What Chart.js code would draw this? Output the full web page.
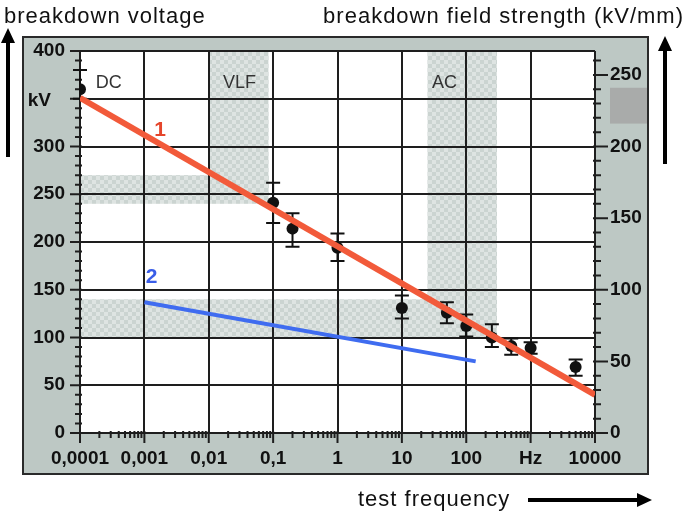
<!DOCTYPE html>
<html>
<head>
<meta charset="utf-8">
<script src="https://cdn.jsdelivr.net/npm/chart.js@4.4.1/dist/chart.umd.min.js"></script>
<style>
  body { margin: 0; background: #fff; }
  #wrap { position: relative; width: 685px; height: 514px; overflow: hidden; }
  canvas { position: absolute; left: 0; top: 0; }
  .lbl { position: absolute; font-family: "Liberation Sans", Arial, sans-serif; font-size: 22px;
         line-height: 22px; letter-spacing: 1px; color: #111; white-space: nowrap; }
</style>
</head>
<body>
<div id="wrap">
  <canvas id="chart" width="685" height="514"></canvas>
  <div class="lbl" style="left:4px; top:5px;">breakdown voltage</div>
  <div class="lbl" style="right:1px; top:5px;">breakdown field strength (kV/mm)</div>
  <div class="lbl" style="left:358px; top:488px;">test frequency</div>
</div>
<script>
// measured breakdown voltages (kV) with error bars
const freq = [0.0001, 0.1, 0.2, 1, 10, 50, 100, 250, 500, 1000, 5000];
const voltage = [360, 241, 214, 194, 131, 126, 112, 100, 91, 89, 69];
const errUp = [20, 21, 16, 15, 13, 11, 12, 14, 8, 6, 8];
const errDown = [10, 21, 19, 14, 11, 11, 11, 10, 9, 6, 9];

// fitted lines
const line1Freq = [0.0001, 10000];
const line1Volt = [351, 40];
const line2Freq = [0.001, 140];
const line2Volt = [137, 75];

// axes
const xTicks = [0.0001, 0.001, 0.01, 0.1, 1, 10, 100, 1000, 10000];
const xLabels = ['0,0001', '0,001', '0,01', '0,1', '1', '10', '100', 'Hz', '10000'];
const yTicks = [0, 50, 100, 150, 200, 250, 300, 350, 400];
const yLabels = ['0', '50', '100', '150', '200', '250', '300', '', '400'];
const y1Ticks = [0, 50, 100, 150, 200, 250];
const y1Max = 400 / 1.5;

// shaded test ranges: [x0, x1, y0, y1]
const bands = [
  [0.0001, 0.085, 240, 270],  // DC
  [0.01, 0.085, 250, 400],    // VLF
  [25, 300, 100, 400],        // AC
  [0.0001, 300, 100, 140]
];
const regionNames = ['DC', 'VLF', 'AC'];
const regionFreq = [0.00028, 0.03, 46];

const pts = freq.map((f, i) => ({ x: f, y: voltage[i] }));
const toXY = (xs, ys) => xs.map((v, i) => ({ x: v, y: ys[i] }));

function makePattern(ctx) {
  const c = document.createElement('canvas');
  c.width = 8; c.height = 8;
  const p = c.getContext('2d');
  p.fillStyle = '#cbd4d1';
  p.fillRect(0, 0, 8, 8);
  p.fillStyle = '#dee4e2';
  p.fillRect(0, 0, 4, 4);
  p.fillRect(4, 4, 4, 4);
  return ctx.createPattern(c, 'repeat');
}

function arrow(ctx, x0, y0, x1, y1) {
  const ang = Math.atan2(y1 - y0, x1 - x0);
  const hl = 15, hw = 7;
  ctx.beginPath();
  ctx.moveTo(x0, y0);
  ctx.lineTo(x1 - hl * Math.cos(ang), y1 - hl * Math.sin(ang));
  ctx.stroke();
  ctx.beginPath();
  ctx.moveTo(x1, y1);
  ctx.lineTo(x1 - hl * Math.cos(ang) - hw * Math.sin(ang), y1 - hl * Math.sin(ang) + hw * Math.cos(ang));
  ctx.lineTo(x1 - hl * Math.cos(ang) + hw * Math.sin(ang), y1 - hl * Math.sin(ang) - hw * Math.cos(ang));
  ctx.closePath();
  ctx.fill();
}

const decor = {
  id: 'decor',
  beforeDraw(chart) {
    const { ctx, chartArea: a, scales: { x, y, y1 } } = chart;
    ctx.save();
    // grey panel
    ctx.fillStyle = '#bdc8c4';
    ctx.fillRect(23, 37, 625, 437);
    ctx.lineWidth = 2;
    ctx.strokeStyle = '#2a2a2a';
    ctx.strokeRect(23, 37, 625, 437);
    ctx.fillStyle = '#fff';
    ctx.fillRect(a.left, a.top, a.right - a.left, a.bottom - a.top);
    // test ranges
    ctx.fillStyle = makePattern(ctx);
    bands.forEach(b => {
      const px0 = x.getPixelForValue(b[0]), px1 = x.getPixelForValue(b[1]);
      const py0 = y.getPixelForValue(b[3]), py1 = y.getPixelForValue(b[2]);
      ctx.fillRect(px0, py0, px1 - px0, py1 - py0);
    });
    // grey marker at right axis
    ctx.fillStyle = '#a9abaa';
    const gy0 = y1.getPixelForValue(241), gy1 = y1.getPixelForValue(216);
    ctx.fillRect(a.right + 15, gy0, 647 - (a.right + 15), gy1 - gy0);
    ctx.restore();
  },
  beforeDatasetsDraw(chart) {
    const { ctx, chartArea: a, scales: { x, y, y1 } } = chart;
    ctx.save();
    ctx.strokeStyle = '#1e1e1e';
    ctx.lineWidth = 2;
    // minor / major tick marks
    ctx.beginPath();
    for (let v = 0; v <= 400; v += 10) {
      const py = y.getPixelForValue(v);
      const len = v % 50 === 0 ? 10 : 5;
      ctx.moveTo(a.left - len, py); ctx.lineTo(a.left + 2, py);
    }
    for (let v = 0; v <= 260; v += 10) {
      const py = y1.getPixelForValue(v);
      const len = v % 50 === 0 ? 13 : 6;
      ctx.moveTo(a.right - 2, py); ctx.lineTo(a.right + len, py);
    }
    for (let d = 0.0001; d < 10001; d *= 10) {
      for (let m = 1; m <= 9; m++) {
        const v = d * m;
        if (v > 10001) break;
        const px = x.getPixelForValue(v);
        const len = m === 1 ? 10 : 5;
        ctx.moveTo(px, a.bottom - 2); ctx.lineTo(px, a.bottom + len);
      }
    }
    ctx.stroke();
    // error bars
    ctx.strokeStyle = '#111';
    ctx.beginPath();
    freq.forEach((f, i) => {
      const px = x.getPixelForValue(f);
      const hi = y.getPixelForValue(voltage[i] + errUp[i]);
      const lo = y.getPixelForValue(voltage[i] - errDown[i]);
      ctx.moveTo(px, hi); ctx.lineTo(px, lo);
      ctx.moveTo(px - 7, hi); ctx.lineTo(px + 7, hi);
      ctx.moveTo(px - 7, lo); ctx.lineTo(px + 7, lo);
    });
    ctx.stroke();
    ctx.restore();
  },
  afterDraw(chart) {
    const { ctx, chartArea: a, scales: { x, y } } = chart;
    ctx.save();
    ctx.textBaseline = 'middle';
    ctx.textAlign = 'center';
    ctx.fillStyle = '#333';
    ctx.font = '18px "Liberation Sans", Arial, sans-serif';
    regionNames.forEach((n, i) => ctx.fillText(n, x.getPixelForValue(regionFreq[i]), y.getPixelForValue(366)));
    ctx.font = 'bold 21px "Liberation Sans", Arial, sans-serif';
    ctx.fillStyle = '#e5452b';
    ctx.fillText('1', x.getPixelForValue(0.00175), y.getPixelForValue(317));
    ctx.fillStyle = '#3a5ee8';
    ctx.fillText('2', x.getPixelForValue(0.0013), y.getPixelForValue(163));
    ctx.fillStyle = '#111';
    ctx.textAlign = 'right';
    ctx.font = 'bold 19px "Liberation Sans", Arial, sans-serif';
    ctx.fillText('kV', a.left - 29, y.getPixelForValue(350) + 2);
    // axis arrows
    ctx.strokeStyle = '#000';
    ctx.fillStyle = '#000';
    ctx.lineWidth = 4;
    arrow(ctx, 8, 157, 8, 28);
    arrow(ctx, 665, 164, 665, 36);
    arrow(ctx, 528, 500, 652, 500);
    ctx.restore();
  }
};

const tickFont = { family: '"Liberation Sans", Arial, sans-serif', size: 19, weight: 'bold' };

new Chart(document.getElementById('chart'), {
  type: 'scatter',
  data: {
    datasets: [
      {
        type: 'line', data: toXY(line1Freq, line1Volt), borderColor: '#f25a3a',
        borderWidth: 6, pointRadius: 0, order: 0, yAxisID: 'y'
      },
      {
        type: 'line', data: toXY(line2Freq, line2Volt), borderColor: '#3f6cf0',
        borderWidth: 4, pointRadius: 0, order: 1, yAxisID: 'y'
      },
      {
        data: pts, backgroundColor: '#111', borderWidth: 0, pointRadius: 6,
        order: 2, yAxisID: 'y'
      }
    ]
  },
  options: {
    responsive: false,
    animation: false,
    layout: { padding: { top: 51, left: 0, right: 0, bottom: 0 } },
    plugins: { legend: { display: false }, tooltip: { enabled: false } },
    scales: {
      x: {
        type: 'logarithmic', min: 0.0001, max: 10000,
        afterBuildTicks: s => { s.ticks = xTicks.map(v => ({ value: v })); },
        afterFit: s => { s.height = 81; },
        ticks: {
          autoSkip: false, maxRotation: 0, padding: 14, color: '#111', font: tickFont,
          callback: (v) => { const i = xTicks.findIndex(t => Math.abs(t - v) / t < 1e-6); return i >= 0 ? xLabels[i] : ''; }
        },
        grid: { color: '#1e1e1e', lineWidth: 2, drawTicks: false },
        border: { display: false }
      },
      y: {
        position: 'left', min: 0, max: 400,
        afterBuildTicks: s => { s.ticks = yTicks.map(v => ({ value: v })); },
        afterFit: s => { s.width = 80; },
        ticks: {
          padding: 15, color: '#111', font: tickFont,
          callback: (v) => yLabels[yTicks.indexOf(v)]
        },
        grid: { color: '#1e1e1e', lineWidth: 2, drawTicks: false },
        border: { display: false }
      },
      y1: {
        position: 'right', min: 0, max: y1Max,
        afterBuildTicks: s => { s.ticks = y1Ticks.map(v => ({ value: v })); },
        afterFit: s => { s.width = 90; },
        ticks: { padding: 15, color: '#111', font: tickFont },
        grid: { display: false, drawTicks: false },
        border: { display: false }
      }
    }
  },
  plugins: [decor]
});
</script>
</body>
</html>
